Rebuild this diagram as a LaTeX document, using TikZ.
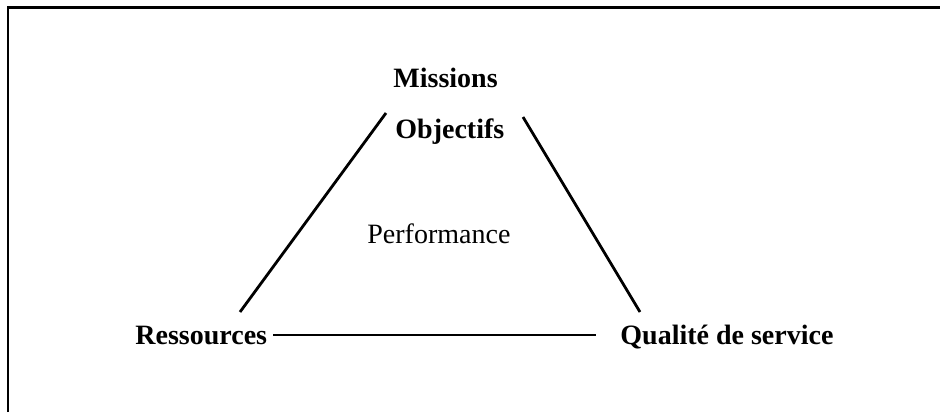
\documentclass[tikz,border=0pt]{standalone}
\usepackage{fontspec}
\setmainfont{Liberation Serif}
\begin{document}
\begin{tikzpicture}[x=0.5pt,y=-0.5pt,
  lbl/.style={inner sep=0pt,anchor=base west,font=\fontsize{14}{16}\selectfont\bfseries},
  plain/.style={inner sep=0pt,anchor=base west,font=\fontsize{14}{16}\selectfont},
  edge/.style={line width=1.4pt}]
\useasboundingbox (0,0) rectangle (940,412);
\draw[line width=1.1pt] (8,412) -- (8,7.5) -- (940,7.5);
\node[lbl] (mis) at (393,87) {Missions};
\node[lbl] (obj) at (395,138) {Objectifs};
\node[plain] (perf) at (367,243) {Performance};
\node[lbl] (res) at (135,344) {Ressources};
\node[lbl] (qual) at (620,344) {Qualité de service};
\coordinate (l1) at (240,312);
\coordinate (l2) at (386,113);
\coordinate (r1) at (523,117);
\coordinate (r2) at (640,312);
\coordinate (b1) at (273,335);
\coordinate (b2) at (596,335);
\draw[edge] (l1) -- (l2);
\draw[edge] (r1) -- (r2);
\draw[edge] (b1) -- (b2);
\end{tikzpicture}
\end{document}
